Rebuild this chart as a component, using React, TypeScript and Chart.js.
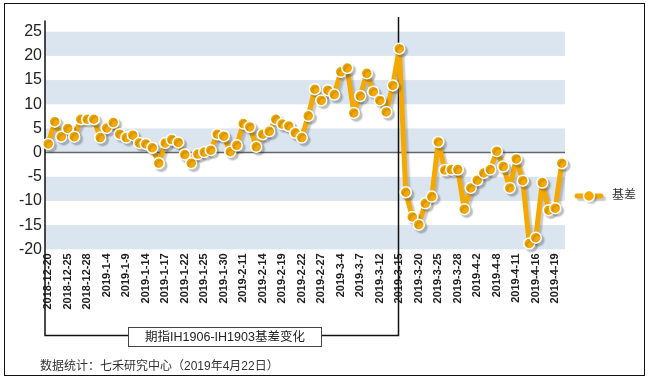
import React, { useEffect, useRef } from "react";
import { Chart, registerables } from "chart.js";

Chart.register(...registerables);

const DATES: string[] = [
  "2018-12-20", "2018-12-21", "2018-12-24", "2018-12-25", "2018-12-26", "2018-12-27", "2018-12-28",
  "2019-1-2", "2019-1-3", "2019-1-4", "2019-1-7", "2019-1-8", "2019-1-9", "2019-1-10", "2019-1-11",
  "2019-1-14", "2019-1-15", "2019-1-16", "2019-1-17", "2019-1-18", "2019-1-21", "2019-1-22", "2019-1-23",
  "2019-1-24", "2019-1-25", "2019-1-28", "2019-1-29", "2019-1-30", "2019-1-31", "2019-2-1",
  "2019-2-11", "2019-2-12", "2019-2-13", "2019-2-14", "2019-2-15", "2019-2-18", "2019-2-19", "2019-2-20",
  "2019-2-21", "2019-2-22", "2019-2-25", "2019-2-26", "2019-2-27", "2019-2-28", "2019-3-1",
  "2019-3-4", "2019-3-5", "2019-3-6", "2019-3-7", "2019-3-8", "2019-3-11", "2019-3-12", "2019-3-13",
  "2019-3-14", "2019-3-15", "2019-3-18", "2019-3-19", "2019-3-20", "2019-3-21", "2019-3-22",
  "2019-3-25", "2019-3-26", "2019-3-27", "2019-3-28", "2019-3-29", "2019-4-1", "2019-4-2", "2019-4-3",
  "2019-4-4", "2019-4-8", "2019-4-9", "2019-4-10", "2019-4-11", "2019-4-12", "2019-4-15", "2019-4-16",
  "2019-4-17", "2019-4-18", "2019-4-19", "2019-4-22",
];

const BASIS: number[] = [
  1.8, 6.4, 3.3, 5.0, 3.3, 6.9, 6.9, 6.9, 3.1, 5.1,
  6.2, 3.8, 3.1, 3.6, 2.0, 1.8, 1.0, -2.2, 2.0, 2.7,
  2.1, -0.4, -2.2, -0.3, 0.1, 0.5, 3.8, 3.4, 0.2, 1.5,
  6.0, 5.3, 1.2, 3.8, 4.4, 6.9, 5.9, 5.5, 4.1, 3.1,
  7.6, 13.1, 10.8, 12.9, 12.0, 16.7, 17.5, 8.2, 11.7, 16.4,
  12.6, 10.8, 8.4, 13.9, 21.5, -8.2, -13.3, -14.9, -10.5, -9.1,
  2.2, -3.6, -3.5, -3.5, -11.7, -7.3, -5.7, -4.2, -3.5, 0.3,
  -2.9, -7.3, -1.3, -5.8, -18.8, -17.6, -6.2, -11.9, -11.5, -2.2,
];

const Y_TICKS: number[] = [-20, -15, -10, -5, 0, 5, 10, 15, 20, 25];
const BANDS: [number, number][] = [[20, 25], [10, 15], [0, 5], [-10, -5], [-20, -15]];
const SERIES_NAME = "基差";
const TITLE_BOX = "期指IH1906-IH1903基差变化";
const SOURCE = "数据统计：七禾研究中心（2019年4月22日）";
const MARK_INDEX = 54;

const ORANGE = "#f4a800";
const BAND = "#dbe5f0";
const LATIN = '"Liberation Sans", Arial, sans-serif';
const MIXED = '"Liberation Sans", Arial, "Noto Sans CJK SC", sans-serif';

export default function App() {
  const ref = useRef<HTMLCanvasElement | null>(null);

  useEffect(() => {
    if (!ref.current) return;

    const deco = {
      id: "deco",
      beforeDatasetsDraw(chart: any) {
        const { ctx, chartArea: a, scales } = chart;
        const y = scales.y;
        const x = scales.x;
        ctx.save();
        ctx.fillStyle = BAND;
        for (const [lo, hi] of BANDS) {
          const y1 = y.getPixelForValue(hi);
          const y2 = y.getPixelForValue(lo);
          ctx.fillRect(a.left, y1, a.right - a.left, y2 - y1);
        }
        const y0 = y.getPixelForValue(0);
        ctx.strokeStyle = "#666";
        ctx.lineWidth = 1.5;
        ctx.beginPath();
        ctx.moveTo(a.left, y0);
        ctx.lineTo(a.right, y0);
        ctx.stroke();
        const bracketY = 335.5;
        ctx.strokeStyle = "#111";
        ctx.lineWidth = 1.5;
        ctx.beginPath();
        ctx.moveTo(a.left, a.top);
        ctx.lineTo(a.left, bracketY);
        ctx.lineTo(128, bracketY);
        ctx.stroke();
        const mx = Math.round(x.getPixelForValue(MARK_INDEX)) - 0.5;
        ctx.beginPath();
        ctx.moveTo(mx, 17);
        ctx.lineTo(mx, bracketY);
        ctx.lineTo(322, bracketY);
        ctx.stroke();
        ctx.restore();
      },
      beforeDatasetDraw(chart: any) {
        const ctx = chart.ctx;
        ctx.save();
        ctx.shadowColor = "rgba(60,60,60,0.28)";
        ctx.shadowOffsetX = 2.5;
        ctx.shadowOffsetY = 2.5;
        ctx.shadowBlur = 1.5;
      },
      afterDatasetDraw(chart: any) {
        chart.ctx.restore();
      },
      afterDraw(chart: any) {
        const { ctx } = chart;
        ctx.save();
        ctx.fillStyle = "#fff";
        ctx.fillRect(128, 327, 194, 19);
        ctx.strokeStyle = "#444";
        ctx.lineWidth = 1;
        ctx.strokeRect(128.5, 327.5, 193, 19);
        ctx.fillStyle = "#222";
        ctx.font = `12.5px ${MIXED}`;
        ctx.textAlign = "center";
        ctx.textBaseline = "middle";
        ctx.fillText(TITLE_BOX, 225, 337.5);
        ctx.textAlign = "left";
        ctx.font = `12px ${MIXED}`;
        ctx.fillStyle = "#333";
        ctx.fillText(SOURCE, 40, 367);
        const ly = 196;
        ctx.save();
        ctx.shadowColor = "rgba(60,60,60,0.28)";
        ctx.shadowOffsetX = 2.5;
        ctx.shadowOffsetY = 2.5;
        ctx.shadowBlur = 1.5;
        ctx.strokeStyle = ORANGE;
        ctx.lineWidth = 5;
        ctx.lineCap = "round";
        ctx.beginPath();
        ctx.moveTo(577, ly);
        ctx.lineTo(601, ly);
        ctx.stroke();
        ctx.beginPath();
        ctx.arc(589, ly, 5.5, 0, Math.PI * 2);
        ctx.fillStyle = ORANGE;
        ctx.fill();
        ctx.restore();
        ctx.beginPath();
        ctx.arc(589, ly, 5.5, 0, Math.PI * 2);
        ctx.strokeStyle = "#fff";
        ctx.lineWidth = 1.5;
        ctx.stroke();
        ctx.fillStyle = "#333";
        ctx.font = `12px ${MIXED}`;
        ctx.textAlign = "left";
        ctx.fillText(SERIES_NAME, 612, ly);
        ctx.strokeStyle = "#111";
        ctx.lineWidth = 1;
        ctx.strokeRect(4.5, 3.5, 640, 372);
        ctx.restore();
      },
    };

    const chart = new Chart(ref.current, {
      type: "line",
      data: {
        labels: DATES,
        datasets: [
          {
            label: SERIES_NAME,
            data: BASIS,
            borderColor: ORANGE,
            backgroundColor: ORANGE,
            borderWidth: 5,
            borderJoinStyle: "round",
            borderCapStyle: "round",
            pointRadius: 5.5,
            pointBackgroundColor: ORANGE,
            pointBorderColor: "#fff",
            pointBorderWidth: 1.5,
            tension: 0,
            clip: false as any,
          },
        ],
      },
      options: {
        animation: false,
        responsive: false,
        layout: { padding: { left: 4, right: 83, top: 20.6, bottom: 0 } },
        plugins: { legend: { display: false }, tooltip: { enabled: false } },
        scales: {
          x: {
            type: "category",
            offset: true,
            grid: { display: false, drawTicks: false },
            border: { display: false },
            ticks: {
              autoSkip: false,
              maxRotation: 90,
              minRotation: 90,
              padding: 4,
              color: "#222",
              font: { family: LATIN, size: 11, weight: "bold" },
              callback: (_v: any, i: number) => (i % 3 === 0 ? DATES[i] : ""),
            },
            afterFit: (s: any) => {
              s.height = 380 - 249.3;
            },
          },
          y: {
            min: -20,
            max: 27.3,
            grid: { display: false, drawTicks: false },
            border: { display: false },
            ticks: {
              stepSize: 5,
              padding: 3,
              color: "#222",
              font: { family: LATIN, size: 16 },
            },
            afterBuildTicks: (s: any) => {
              s.ticks = Y_TICKS.map((v) => ({ value: v }));
            },
            afterFit: (s: any) => {
              s.width = 41;
            },
          },
        },
      } as any,
      plugins: [deco],
    });

    return () => chart.destroy();
  }, []);

  return (
    <div style={{ position: "fixed", left: 0, top: 0, width: 648, height: 380, background: "#fff" }}>
      <canvas ref={ref} width={648} height={380} style={{ display: "block" }} />
    </div>
  );
}
